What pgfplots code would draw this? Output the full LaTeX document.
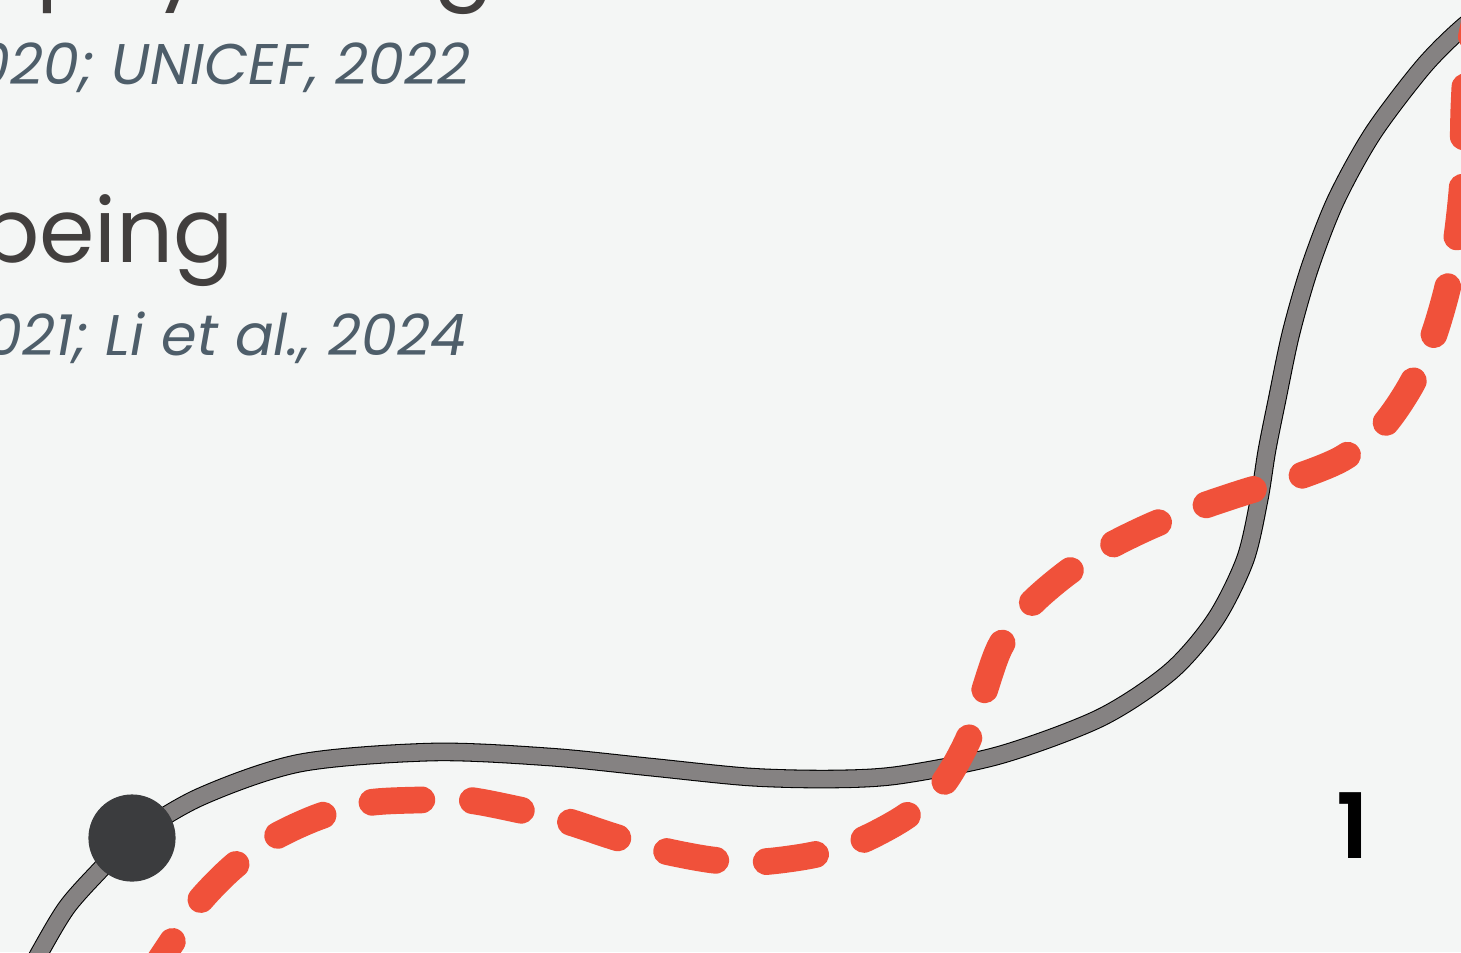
\documentclass[border=0pt]{standalone}
\usepackage{fontspec}
\setmainfont{Poppins}
\newfontfamily\popsemi{Poppins SemiBold}
\usepackage{pgfplots}
\pgfplotsset{compat=1.18}
\definecolor{bgc}{HTML}{F4F6F5}
\definecolor{headc}{HTML}{423F3E}
\definecolor{citec}{HTML}{4E5E6A}
\definecolor{grayline}{HTML}{858282}
\definecolor{redline}{HTML}{F0513A}
\definecolor{dotc}{HTML}{3B3C3E}
\pgfplotstableread{
x y
20 990
40 952
67 907
100 870
132 838
200 797
300 763
433 752
550 757
650 767
750 777
833 779
900 775
1000 755
1100 718
1170 672
1215 620
1245 560
1259 500
1267 450
1277 400
1291 333
1310 267
1336 200
1373 133
1423 67
1463 27
1500 0
}\graytab
\begin{document}
\begin{tikzpicture}
\begin{axis}[
  scale only axis, width=146.1mm, height=95.2mm,
  xmin=0, xmax=1461, ymin=0, ymax=952, y dir=reverse,
  axis lines=none, clip=true,
]
\coordinate (SW) at (rel axis cs:0,1);
\coordinate (NE) at (rel axis cs:1,0);
\fill[bgc] (rel axis cs:0,0) rectangle (rel axis cs:1,1);

% headings and citations
\node[anchor=base west, text=headc, font=\fontsize{25.4}{30}\selectfont, inner sep=0pt]
  at (axis cs:36,-9) {\llap{Healthy\ }physical growth};
\node[anchor=base east, text=citec, font=\fontsize{16.3}{19}\selectfont\itshape, inner sep=0pt]
  at (axis cs:471,84) {WHO, 2020; UNICEF, 2022};
\node[anchor=base east, text=headc, font=\fontsize{25.4}{30}\selectfont, inner sep=0pt]
  at (axis cs:235,262) {Emotional well-being};
\node[anchor=base east, text=citec, font=\fontsize{16.3}{19}\selectfont\itshape, inner sep=0pt]
  at (axis cs:467,355) {Smith et al., 2021; Li et al., 2024};

% grey curve (outline + fill)
\addplot[black, line width=5.3pt, smooth, line cap=round] table[x=x,y=y] {\graytab};
\addplot[grayline, line width=4.7pt, smooth, line cap=round] table[x=x,y=y] {\graytab};

% red dashed curve
\addplot[redline, line width=7.6pt, smooth, line cap=round,
  dash pattern=on 14.2pt off 14.4pt, dash phase=27.2pt] coordinates {
(142,987) (170,945) (198,903) (233,867) (273,838) (318,817) (367,803) (418,800)
(467,800) (520,810) (563,820) (615,837) (660,850) (713,860) (760,862) (813,855)
(858,842) (905,817) (942,785) (968,740) (983,695) (1000,647) (1028,607)
(1067,573) (1108,547) (1153,525) (1200,507) (1248,491) (1297,477) (1343,458)
(1382,427) (1410,387) (1432,340) (1447,290) (1456,243) (1462,190) (1463,150)
(1464,105) (1467,60) (1475,20)};

% marker
\addplot[only marks, mark=*, mark size=12.2pt, color=dotc] coordinates {(132,838)};

% label
\node[anchor=base, text=black, font=\fontsize{25.7}{30}\selectfont\popsemi, inner sep=0pt]
  at (axis cs:1353,858) {1};
\end{axis}
\pgfresetboundingbox
\useasboundingbox (SW) rectangle (NE);
\end{tikzpicture}
\end{document}
